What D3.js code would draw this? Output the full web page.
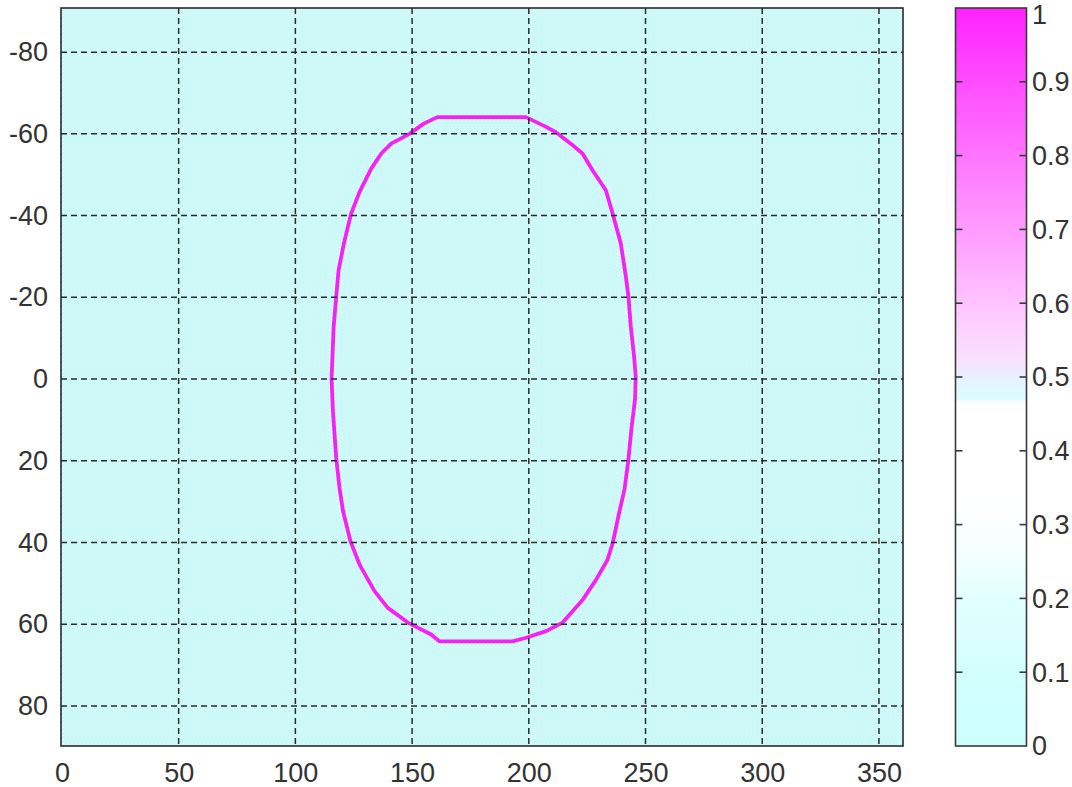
<!DOCTYPE html>
<html>
<head>
<meta charset="utf-8">
<script src="https://cdn.jsdelivr.net/npm/d3@7"></script>
<style>
  body { margin: 0; background: #ffffff; overflow: hidden; }
  text { font-family: "Liberation Sans", Arial, sans-serif; }
</style>
</head>
<body>
<svg id="chart" width="1072" height="787"></svg>
<script>
// ---- data ----
const xTicks = [0, 50, 100, 150, 200, 250, 300, 350];
const xTickLabels = ["0", "50", "100", "150", "200", "250", "300", "350"];
const yTicks = [-80, -60, -40, -20, 0, 20, 40, 60, 80];
const yTickLabels = ["-80", "-60", "-40", "-20", "0", "20", "40", "60", "80"];
const cbTicks = [0, 0.1, 0.2, 0.3, 0.4, 0.5, 0.6, 0.7, 0.8, 0.9, 1];
const cbTickLabels = ["0", "0.1", "0.2", "0.3", "0.4", "0.5", "0.6", "0.7", "0.8", "0.9", "1"];

// field value outside the contour, and the value along it
const fieldValue = 0;
const ringValue = 1;

// contour of the value-1 ring (longitude, latitude), traced clockwise
const ringLon = [160.8, 198.8, 207.4, 211.6, 218.0, 223.0, 227.3, 233.0, 235.9, 239.4,
                 241.6, 242.7, 243.7, 245.1, 245.8, 245.5, 244.0, 242.6, 241.0, 238.6,
                 236.0, 233.7, 228.7, 223.0, 214.5, 207.4, 198.8, 193.0, 161.7, 158.2,
                 148.2, 139.6, 133.9, 127.5, 123.6, 120.4, 118.9, 117.5, 116.1, 115.5,
                 116.4, 117.5, 118.5, 120.8, 123.9, 127.5, 132.5, 136.8, 141.0, 148.9, 155.0];
const ringLat = [-64.1, -64.1, -61.7, -60.4, -57.6, -55.2, -51.1, -46.2, -40.5, -33.2,
                 -25.0, -20.1, -12.8, -5.5, -0.6, 5.0, 12.0, 20.0, 27.0, 33.0,
                 40.0, 44.3, 49.2, 54.1, 59.6, 61.7, 63.3, 64.2, 64.2, 62.5,
                 59.6, 56.0, 51.9, 45.4, 39.7, 32.3, 26.6, 19.3, 7.9, 0.0,
                 -12.8, -20.1, -26.6, -33.2, -40.5, -45.8, -51.5, -55.2, -57.6, -60.0, -62.5];

// ---- layout ----
const svg = d3.select("#chart");
const plot = { left: 61, right: 903, top: 8, bottom: 746 };
const bar = { left: 955.5, right: 1026.5, top: 8, bottom: 746 };

const x = d3.scaleLinear().domain([-0.4, 360.3]).range([plot.left, plot.right]);
const y = d3.scaleLinear().domain([-90.8, 89.8]).range([plot.top, plot.bottom]);
const c = d3.scaleLinear().domain([0, 1]).range([bar.bottom, bar.top]);

// palette: light cyan -> white -> (cyan edge) -> pink -> magenta
const palette = [
  [0.00, "#cdfefe"], [0.10, "#d3fefe"], [0.20, "#e2ffff"], [0.27, "#f6ffff"],
  [0.33, "#ffffff"], [0.465, "#ffffff"], [0.47, "#dcfcff"], [0.495, "#e4f4ff"],
  [0.52, "#f8e2ff"], [0.58, "#ffccff"], [0.66, "#ffaaff"], [0.75, "#ff88ff"],
  [0.85, "#ff60ff"], [0.93, "#ff40ff"], [1.00, "#ff22ff"]
];
const colorOf = d3.scaleLinear().domain(palette.map(p => p[0])).range(palette.map(p => p[1]));

const defs = svg.append("defs");

// dithered fill for the flat field
const pat = defs.append("pattern").attr("id", "field").attr("patternUnits", "userSpaceOnUse")
  .attr("width", 4).attr("height", 4);
pat.append("rect").attr("width", 4).attr("height", 4).attr("fill", d3.color(colorOf(fieldValue)).darker(0.05));
pat.append("rect").attr("x", 1).attr("y", 1).attr("width", 1).attr("height", 1).attr("fill", "#ffffff");
pat.append("rect").attr("x", 3).attr("y", 3).attr("width", 1).attr("height", 1).attr("fill", "#ffffff");

const grad = defs.append("linearGradient").attr("id", "cbgrad")
  .attr("x1", 0).attr("y1", 1).attr("x2", 0).attr("y2", 0);
grad.selectAll("stop").data(palette).join("stop")
  .attr("offset", d => d[0]).attr("stop-color", d => d[1]);

// ---- map ----
svg.append("rect")
  .attr("x", plot.left).attr("y", plot.top)
  .attr("width", plot.right - plot.left).attr("height", plot.bottom - plot.top)
  .attr("fill", "url(#field)");

// the ring cells render as a fully saturated magenta
const ring = d3.range(ringLon.length).map(i => [ringLon[i], ringLat[i]]);
svg.append("path")
  .datum(ring)
  .attr("d", d3.line().x(d => x(d[0])).y(d => y(d[1])).curve(d3.curveLinearClosed))
  .attr("fill", "none")
  .attr("stroke", d3.color(colorOf(ringValue)).darker(0.1))
  .attr("stroke-width", 3.8)
  .attr("stroke-linejoin", "round");

// grid in front of the map
const grid = svg.append("g").attr("stroke", "#2a2a2a").attr("stroke-width", 1.5)
  .attr("stroke-dasharray", "6,4");
grid.selectAll("line.v").data(xTicks.filter(t => t > 0)).join("line")
  .attr("class", "v")
  .attr("x1", d => x(d)).attr("x2", d => x(d))
  .attr("y1", plot.top).attr("y2", plot.bottom);
grid.selectAll("line.h").data(yTicks).join("line")
  .attr("class", "h")
  .attr("x1", plot.left).attr("x2", plot.right)
  .attr("y1", d => y(d)).attr("y2", d => y(d));

svg.append("rect")
  .attr("x", plot.left).attr("y", plot.top)
  .attr("width", plot.right - plot.left).attr("height", plot.bottom - plot.top)
  .attr("fill", "none").attr("stroke", "#2a2a2a").attr("stroke-width", 1.6);

// axes
const fontSize = 27;
const xAxis = svg.append("g").attr("transform", `translate(0,${plot.bottom})`)
  .call(d3.axisBottom(x).tickValues(xTicks).tickSize(0).tickPadding(17)
    .tickFormat((d, i) => xTickLabels[i]));
const yAxis = svg.append("g").attr("transform", `translate(${plot.left},0)`)
  .call(d3.axisLeft(y).tickValues(yTicks).tickSize(0).tickPadding(13)
    .tickFormat((d, i) => yTickLabels[i]));
[xAxis, yAxis].forEach(a => {
  a.select(".domain").remove();
  a.selectAll("text").attr("font-size", fontSize).attr("fill", "#333")
    .attr("font-family", "'Liberation Sans', Arial, sans-serif");
});

// ---- colour bar ----
svg.append("rect")
  .attr("x", bar.left).attr("y", bar.top)
  .attr("width", bar.right - bar.left).attr("height", bar.bottom - bar.top)
  .attr("fill", "url(#cbgrad)")
  .attr("stroke", "#3a3a3a").attr("stroke-width", 1.6);

const cbt = svg.append("g").attr("stroke", "#3a3a3a").attr("stroke-width", 1.6);
cbt.selectAll("line.l").data(cbTicks.slice(1, -1)).join("line")
  .attr("class", "l")
  .attr("x1", bar.left).attr("x2", bar.left + 7)
  .attr("y1", d => c(d)).attr("y2", d => c(d));
cbt.selectAll("line.r").data(cbTicks.slice(1, -1)).join("line")
  .attr("class", "r")
  .attr("x1", bar.right - 7).attr("x2", bar.right)
  .attr("y1", d => c(d)).attr("y2", d => c(d));

// labels sit centred on their ticks, kept inside the top edge
svg.append("g").selectAll("text").data(cbTicks).join("text")
  .attr("x", 1032).attr("y", d => Math.max(c(d), 15))
  .attr("dy", "0.35em")
  .attr("font-size", fontSize).attr("fill", "#333")
  .text((d, i) => cbTickLabels[i]);
</script>
</body>
</html>
